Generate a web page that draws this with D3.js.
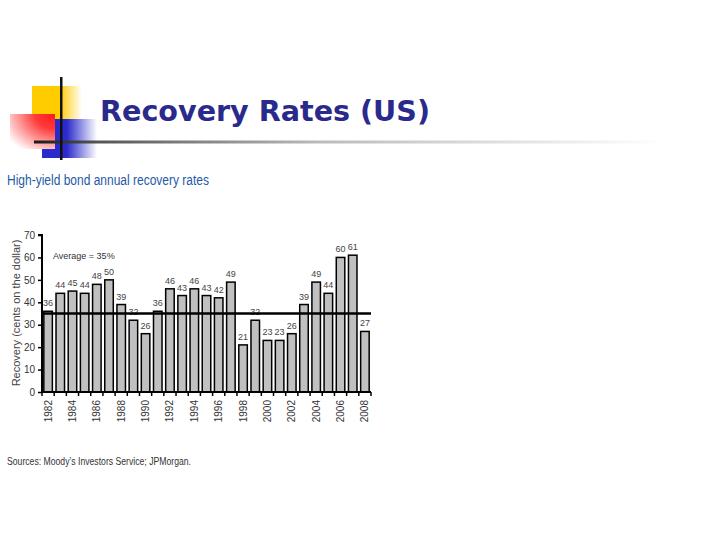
<!DOCTYPE html>
<html><head><meta charset="utf-8">
<script src="https://cdn.jsdelivr.net/npm/d3@7"></script>
<style>
html,body{margin:0;padding:0;background:#fff;}
svg{display:block;}
</style></head>
<body>
<script>
const years = [1982,1983,1984,1985,1986,1987,1988,1989,1990,1991,1992,1993,1994,1995,1996,1997,1998,1999,2000,2001,2002,2003,2004,2005,2006,2007,2008];
const recovery = [36,44,45,44,48,50,39,32,26,36,46,43,46,43,42,49,21,32,23,23,26,39,49,44,60,61,27];
const yTicks = [0,10,20,30,40,50,60,70];
const xLabelYears = [1982,1984,1986,1988,1990,1992,1994,1996,1998,2000,2002,2004,2006,2008];
const averageValue = 35;
const titleText = "Recovery Rates (US)";
const subtitleText = "High-yield bond annual recovery rates";
const yAxisTitle = "Recovery (cents on the dollar)";
const averageLabel = "Average = 35%";
const sourceText = "Sources: Moody\u2019s Investors Service; JPMorgan.";

const W = 720, H = 540;
const svg = d3.select("body").append("svg").attr("width", W).attr("height", H);
const defs = svg.append("defs");

// gradients for decoration
const gY = defs.append("linearGradient").attr("id","gy").attr("x1","0").attr("x2","1");
gY.append("stop").attr("offset","0").attr("stop-color","#ffcc00");
gY.append("stop").attr("offset","0.55").attr("stop-color","#ffcc00");
gY.append("stop").attr("offset","1").attr("stop-color","#ffffff");
const gB = defs.append("linearGradient").attr("id","gb").attr("x1","0").attr("x2","1");
gB.append("stop").attr("offset","0").attr("stop-color","#2b2bcc");
gB.append("stop").attr("offset","0.45").attr("stop-color","#2b2bcc");
gB.append("stop").attr("offset","1").attr("stop-color","#ffffff");
const gR = defs.append("radialGradient").attr("id","gr").attr("cx","1").attr("cy","0").attr("r","1.25");
gR.append("stop").attr("offset","0").attr("stop-color","#ff1a1a");
gR.append("stop").attr("offset","0.35").attr("stop-color","#ff3a3a");
gR.append("stop").attr("offset","1").attr("stop-color","#ffffff");
const gL = defs.append("linearGradient").attr("id","gl").attr("x1","0").attr("x2","1");
gL.append("stop").attr("offset","0").attr("stop-color","#1a1a1a");
gL.append("stop").attr("offset","0.1").attr("stop-color","#555555");
gL.append("stop").attr("offset","0.45").attr("stop-color","#bbbbbb");
gL.append("stop").attr("offset","1").attr("stop-color","#ffffff");

const deco = svg.append("g");
deco.append("rect").attr("x",32).attr("y",86).attr("width",50).attr("height",33).attr("fill","url(#gy)");
deco.append("rect").attr("x",42).attr("y",119).attr("width",55).attr("height",39).attr("fill","url(#gb)");
deco.append("rect").attr("x",10).attr("y",114).attr("width",45).attr("height",35).attr("fill","url(#gr)");
deco.append("rect").attr("x",34).attr("y",140.5).attr("width",632).attr("height",3).attr("fill","url(#gl)");
deco.append("rect").attr("x",60).attr("y",77).attr("width",2.5).attr("height",83).attr("fill","#111");

svg.append("text").attr("x",100).attr("y",121)
  .attr("font-family","'DejaVu Sans', Verdana, sans-serif").attr("font-weight","bold")
  .attr("font-size",28).attr("fill","#2a2a8c")
  .attr("textLength",330).attr("lengthAdjust","spacingAndGlyphs")
  .text(titleText);

svg.append("text").attr("x",7).attr("y",185)
  .attr("font-family","'Liberation Sans Narrow','Arial Narrow','Liberation Sans',sans-serif")
  .attr("font-size",14).attr("fill","#1f5aa6")
  .attr("textLength",202).attr("lengthAdjust","spacingAndGlyphs")
  .text(subtitleText);

const narrow = "'Liberation Sans Narrow','Arial Narrow','Liberation Sans',sans-serif";

const x = d3.scaleBand().domain(years).range([42,371]).paddingInner(0.3).paddingOuter(0.15);
const y = d3.scaleLinear().domain([0,70]).range([392,235]);

const g = svg.append("g");

// bars
g.selectAll("rect.bar").data(years).join("rect").attr("class","bar")
  .attr("x", d => x(d)).attr("width", x.bandwidth())
  .attr("y", (d,i) => y(recovery[i])).attr("height", (d,i) => y(0) - y(recovery[i]))
  .attr("fill","#c0c0c0").attr("stroke","#000").attr("stroke-width",1.5);

// value labels
g.selectAll("text.val").data(years).join("text").attr("class","val")
  .attr("x", d => x(d) + x.bandwidth()/2).attr("y", (d,i) => y(recovery[i]) - 5)
  .attr("text-anchor","middle").attr("font-family",narrow).attr("font-size",9).attr("fill","#444")
  .text((d,i) => recovery[i]);

// y axis
const yAxis = d3.axisLeft(y).tickValues(yTicks).tickSize(4).tickPadding(3);
const ya = g.append("g").attr("transform","translate(42,0)").call(yAxis);
ya.select(".domain").attr("stroke","#000").attr("stroke-width",2).attr("d","M-4,235H0V392");
ya.selectAll(".tick line").attr("stroke","#000").attr("stroke-width",1.5);
ya.selectAll(".tick text").attr("font-family",narrow).attr("font-size",10).attr("fill","#333");

// x axis: ticks at band boundaries
const step = x.step();
const boundaries = years.map(d => x(d) - step*x.paddingInner()/2).concat([x(years[years.length-1]) + x.bandwidth() + step*x.paddingInner()/2]);
const xa = g.append("g");
xa.append("line").attr("x1",42).attr("x2",371).attr("y1",392).attr("y2",392).attr("stroke","#000").attr("stroke-width",2);
xa.selectAll("line.t").data(boundaries).join("line").attr("class","t")
  .attr("x1",d=>d).attr("x2",d=>d).attr("y1",392).attr("y2",396).attr("stroke","#000").attr("stroke-width",1.5);
xa.selectAll("text").data(xLabelYears).join("text")
  .attr("transform", d => `translate(${x(d)+x.bandwidth()/2+3.5},400) rotate(-90)`)
  .attr("text-anchor","end").attr("font-family",narrow).attr("font-size",10).attr("fill","#333")
  .text(d => d);

// average line
g.append("line").attr("x1",42).attr("x2",371).attr("y1",y(averageValue)).attr("y2",y(averageValue))
  .attr("stroke","#000").attr("stroke-width",2.5);
g.append("text").attr("x",53).attr("y",259).attr("font-family",narrow).attr("font-size",9).attr("fill","#333")
  .text(averageLabel);

// y axis title
svg.append("text").attr("transform","translate(20,313) rotate(-90)").attr("text-anchor","middle")
  .attr("font-family",narrow).attr("font-size",11).attr("fill","#444").text(yAxisTitle);

svg.append("text").attr("x",7).attr("y",465).attr("font-family",narrow).attr("font-size",10.5).attr("fill","#333")
  .attr("textLength",184).attr("lengthAdjust","spacingAndGlyphs")
  .text(sourceText);
</script>
</body></html>
